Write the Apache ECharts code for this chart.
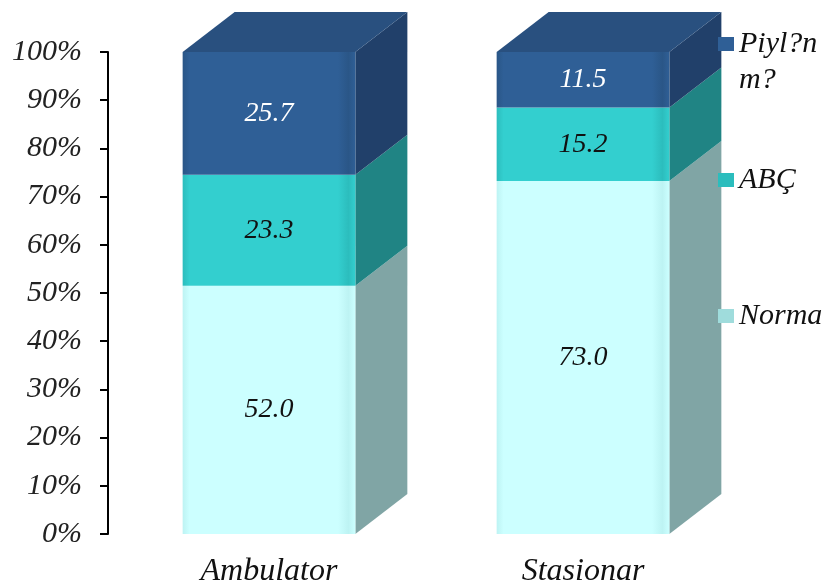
<!DOCTYPE html>
<html><head><meta charset="utf-8">
<script src="https://cdn.jsdelivr.net/npm/echarts@6/dist/echarts.min.js"></script>
<style>html,body{margin:0;padding:0;background:#fff}#c{width:832px;height:588px}</style>
</head><body><div id="c"></div>
<script>
// ---- data ----
const categories = ['Ambulator', 'Stasionar'];
const seriesNames = ['Norma', 'ABÇ', 'Piyl?nm?'];
const normaValues = [52.0, 73.0];
const abcValues = [23.3, 15.2];
const piylValues = [25.7, 11.5];
const yTickLabels = ['0%', '10%', '20%', '30%', '40%', '50%', '60%', '70%', '80%', '90%', '100%'];
const legendLabels = ['Norma', 'ABÇ', 'Piyl?n\nm?'];

// ---- styles ----
const faces = [
  { front: '#CCFFFF', edge: '#BDF3F3', side: '#80A5A5', top: '#AEE0E0', text: '#111111', icon: '#9FDCDC' },
  { front: '#33CFCF', edge: '#2CBDBD', side: '#208484', top: '#28A9A9', text: '#111111', icon: '#2BBDBD' },
  { front: '#2F5F96', edge: '#2A5687', side: '#21406A', top: '#29507F', text: '#FFFFFF', icon: '#2F5F96' }
];
const serifFont = "'Liberation Serif', 'Times New Roman', serif";
const DX = 52, DY = -40;

const allValues = [normaValues, abcValues, piylValues];
const totals = categories.map((c, i) => allValues.reduce((s, arr) => s + arr[i], 0));

function buildData(k) {
  return categories.map((c, i) => {
    let start = 0;
    for (let j = 0; j < k; j++) start += allValues[j][i];
    const v = allValues[k][i];
    return [i, start / totals[i] * 100, (start + v) / totals[i] * 100, v];
  });
}

function makeRender(k) {
  const f = faces[k];
  const isTop = k === allValues.length - 1;
  return function (params, api) {
    const ci = api.value(0);
    const p0 = api.coord([ci, api.value(1)]);
    const p1 = api.coord([ci, api.value(2)]);
    const bw = api.size([1, 0])[0] * 0.55;
    const x0 = p0[0] - bw / 2, x1 = p0[0] + bw / 2;
    const yb = p0[1], yt = p1[1];
    const children = [
      { type: 'polygon', shape: { points: [[x1, yt], [x1 + DX, yt + DY], [x1 + DX, yb + DY], [x1, yb]] },
        style: { fill: f.side } },
      { type: 'rect', shape: { x: x0, y: yt, width: bw, height: yb - yt },
        style: { fill: { type: 'linear', x: 0, y: 0, x2: 1, y2: 0, colorStops: [
          { offset: 0, color: f.edge }, { offset: 0.04, color: f.front },
          { offset: 0.9, color: f.front }, { offset: 0.96, color: f.edge }, { offset: 1, color: f.front }] } } }
    ];
    if (isTop) {
      children.push({ type: 'polygon', shape: { points: [[x0, yt], [x1, yt], [x1 + DX, yt + DY], [x0 + DX, yt + DY]] },
        style: { fill: f.top } });
    }
    children.push({ type: 'text', style: {
      text: api.value(3).toFixed(1), x: p0[0], y: (yb + yt) / 2, align: 'center', verticalAlign: 'middle',
      fontSize: 28, fontStyle: 'italic', fontFamily: serifFont, fill: f.text } });
    return { type: 'group', children };
  };
}

const series = seriesNames.map((name, k) => ({
  name, type: 'custom', renderItem: makeRender(k), data: buildData(k),
  itemStyle: { color: faces[k].icon },
  encode: { x: 0, y: [1, 2] }, animation: false
}));

function legendFor(k, top, lh) {
  return {
    data: [seriesNames[k]], left: 718, top, padding: 0, itemWidth: 16, itemHeight: 14, icon: 'rect',
    formatter: () => (k === 2 ? '\n' : '') + legendLabels[k],
    textStyle: { fontSize: 30, lineHeight: lh, fontStyle: 'italic', fontFamily: serifFont, color: '#111' }
  };
}

const chart = echarts.init(document.getElementById('c'), null, { renderer: 'canvas' });
chart.setOption({
  backgroundColor: '#ffffff',
  animation: false,
  grid: { left: 112, width: 628, top: 52, bottom: 53 },
  xAxis: {
    type: 'category', data: categories,
    axisLine: { show: false }, axisTick: { show: false },
    axisLabel: { fontSize: 32, fontStyle: 'italic', fontFamily: serifFont, color: '#111', margin: 22 }
  },
  yAxis: {
    type: 'value', min: 0, max: 100, interval: 10, offset: 4,
    axisLine: { show: true, lineStyle: { color: '#000', width: 2 } },
    axisTick: { show: true, length: 8, lineStyle: { color: '#000', width: 2 } },
    splitLine: { show: false },
    axisLabel: { formatter: v => yTickLabels[Math.round(v / 10)], fontSize: 30, fontStyle: 'italic',
      fontFamily: serifFont, color: '#222', margin: 26 }
  },
  legend: [legendFor(2, -10, 36), legendFor(1, 163, 34), legendFor(0, 299, 34)],
  series
});
</script></body></html>
